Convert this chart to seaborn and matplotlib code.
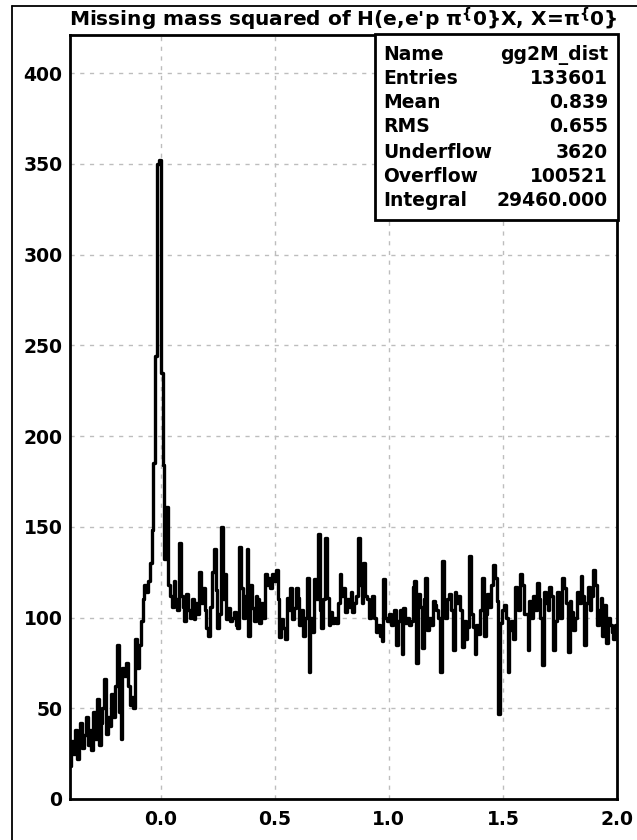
import numpy as np
import pandas as pd
import seaborn as sns
import matplotlib.pyplot as plt
from matplotlib.ticker import MultipleLocator, FormatStrFormatter
from matplotlib.patches import Rectangle
from matplotlib.lines import Line2D

# Histogram definition: 300 bins between -0.4 and 2.0 GeV^2
x_lo, x_hi, n_bins = -0.4, 2.0, 300

counts = [
    18, 32, 25, 38, 22, 30, 42, 28, 35, 45,
    30, 38, 27, 48, 33, 55, 30, 42, 50, 66,
    36, 45, 40, 58, 45, 62, 85, 48, 33, 72,
    68, 75, 62, 52, 56, 50, 88, 72, 85, 98,
    110, 118, 114, 120, 130, 148, 185, 244, 350, 352,
    235, 184, 132, 161, 118, 112, 106, 120, 110, 104,
    141, 112, 106, 98, 113, 104, 100, 110, 99, 108,
    102, 125, 108, 116, 104, 94, 90, 106, 125, 138,
    115, 94, 102, 150, 110, 124, 99, 105, 98, 100,
    103, 96, 94, 139, 116, 100, 112, 138, 90, 118,
    105, 98, 112, 110, 97, 108, 100, 124, 118, 122,
    116, 124, 120, 126, 110, 89, 99, 94, 88, 111,
    104, 116, 99, 105, 116, 111, 96, 104, 90, 100,
    122, 70, 100, 92, 121, 110, 146, 104, 94, 110,
    144, 111, 96, 103, 97, 100, 97, 108, 124, 112,
    116, 103, 110, 106, 114, 103, 108, 112, 144, 118,
    108, 130, 112, 110, 100, 106, 112, 100, 92, 96,
    90, 87, 121, 100, 98, 102, 96, 100, 104, 85,
    98, 104, 80, 105, 97, 100, 96, 98, 117, 120,
    75, 113, 106, 83, 110, 122, 93, 100, 96, 109,
    107, 104, 100, 70, 131, 107, 100, 110, 113, 104,
    82, 114, 108, 112, 104, 84, 98, 88, 95, 134,
    102, 95, 80, 96, 91, 104, 122, 90, 102, 113,
    106, 118, 129, 122, 109, 47, 97, 104, 107, 100,
    70, 93, 98, 88, 117, 110, 104, 124, 118, 102,
    102, 82, 109, 100, 112, 104, 119, 110, 100, 74,
    114, 108, 104, 117, 112, 82, 98, 114, 106, 100,
    122, 116, 108, 81, 109, 103, 93, 100, 114, 108,
    123, 112, 85, 108, 117, 104, 112, 126, 118, 96,
    104, 111, 90, 107, 86, 100, 96, 92, 88, 96,
]

stat_names = ["Name", "Entries", "Mean", "RMS", "Underflow", "Overflow", "Integral"]
stat_values = ["gg2M_dist", "133601", "0.839", "0.655", "3620", "100521", "29460.000"]

title = r"Missing mass squared of H(e,e'p $\mathregular{π^{\{}}$0}X, X=$\mathregular{π^{\{}}$0}"

bin_w = (x_hi - x_lo) / n_bins
centers = x_lo + bin_w * (np.arange(n_bins) + 0.5)
df = pd.DataFrame({"mm2": centers, "w": np.asarray(counts, dtype=float)})

sns.set_style("white")
plt.rcParams["font.family"] = ["DejaVu Sans"]
plt.rcParams["text.color"] = "black"
plt.rcParams["xtick.color"] = "black"
plt.rcParams["ytick.color"] = "black"
plt.rcParams["xtick.labelcolor"] = "black"
plt.rcParams["ytick.labelcolor"] = "black"
plt.rcParams["mathtext.default"] = "regular"

W, H = 637, 840
fig = plt.figure(figsize=(W / 100, H / 100), dpi=100)
fig.patch.set_facecolor("white")

ax_l, ax_r, ax_t, ax_b = 69.5, 617, 35, 799
ax = fig.add_axes([ax_l / W, 1 - ax_b / H, (ax_r - ax_l) / W, (ax_b - ax_t) / H])

sns.histplot(data=df, x="mm2", weights="w", bins=n_bins, binrange=(x_lo, x_hi),
             element="step", fill=False, color="black", linewidth=2.4, ax=ax)

ax.set_xlim(x_lo, x_hi)
ax.set_ylim(0, 421)
ax.set_xlabel("")
ax.set_ylabel("")

ax.xaxis.set_major_locator(MultipleLocator(0.5))
ax.xaxis.set_minor_locator(MultipleLocator(0.1))
ax.xaxis.set_major_formatter(FormatStrFormatter("%.1f"))
ax.yaxis.set_major_locator(MultipleLocator(50))
ax.yaxis.set_minor_locator(MultipleLocator(10))

ax.tick_params(which="both", direction="in", top=False, right=False,
               width=1.6, color="black", labelcolor="black")
ax.tick_params(which="major", length=11.5, labelsize=13.5)
ax.tick_params(which="minor", length=5.8)
ax.tick_params(axis="x", which="major", pad=8)
ax.tick_params(axis="y", which="major", pad=5)
for lab in ax.get_xticklabels() + ax.get_yticklabels():
    lab.set_fontweight("bold")

for sp in ax.spines.values():
    sp.set_visible(True)
    sp.set_linewidth(2.0)
    sp.set_color("black")

ax.grid(True, which="major", color="#bdbdbd", linestyle=(0, (3, 4)), linewidth=1.0)
ax.set_axisbelow(True)

# canvas border (left and top edges)
fig.add_artist(Line2D([12 / W, 12 / W], [0, 1 - 6 / H], transform=fig.transFigure,
                      color="black", linewidth=1.3))
fig.add_artist(Line2D([12 / W, 1], [1 - 6 / H, 1 - 6 / H], transform=fig.transFigure,
                      color="black", linewidth=1.3))

fig.text(343 / W, 1 - 26.5 / H, title, ha="center", va="baseline",
         fontsize=14.5, fontweight="bold", color="black")

# statistics box
bx0, bx1, by0, by1 = 375, 618, 34, 220
fig.add_artist(Rectangle((bx0 / W, 1 - by1 / H), (bx1 - bx0) / W, (by1 - by0) / H,
                         transform=fig.transFigure, facecolor="white",
                         edgecolor="black", linewidth=2.0, zorder=5))
row_y = [55, 79, 103, 127, 152, 176, 201]
for yy, nm, val in zip(row_y, stat_names, stat_values):
    fig.text(383 / W, 1 - yy / H, nm, ha="left", va="center", fontsize=13.5,
             fontweight="bold", color="black", zorder=6)
    fig.text(608 / W, 1 - yy / H, val, ha="right", va="center", fontsize=13.5,
             fontweight="bold", color="black", zorder=6)

fig.savefig("out.png", dpi=100, facecolor="white")
